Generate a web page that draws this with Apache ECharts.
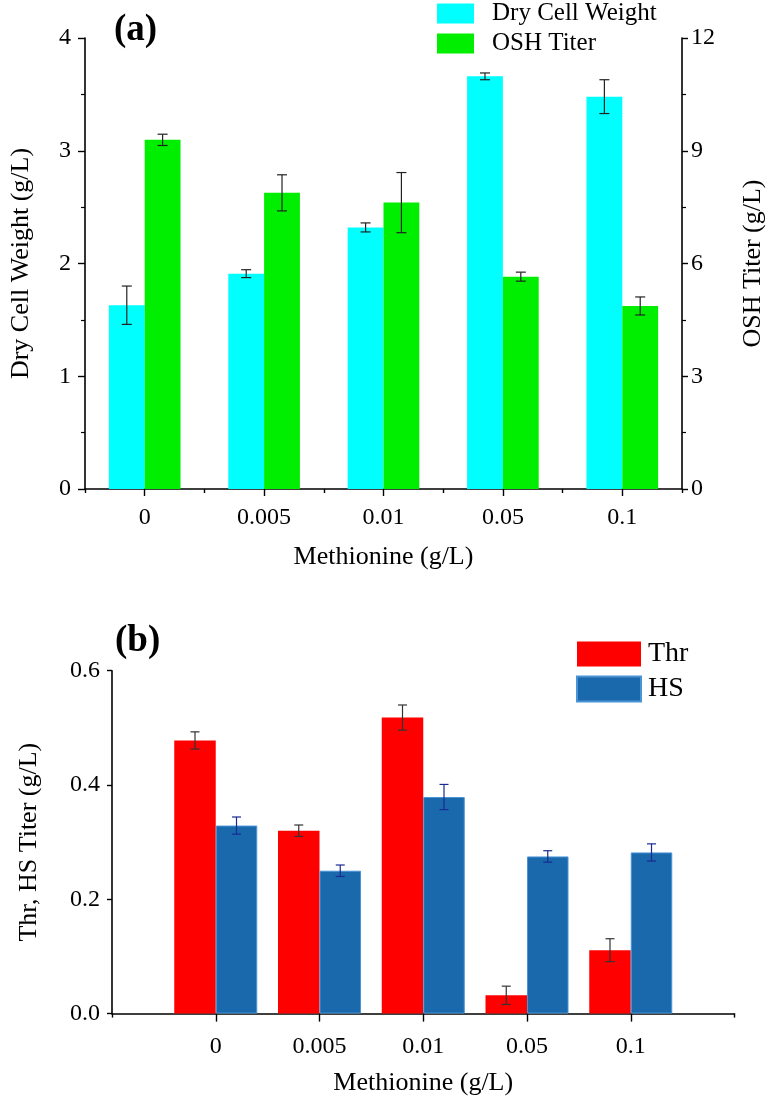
<!DOCTYPE html>
<html>
<head>
<meta charset="utf-8">
<script src="https://cdn.jsdelivr.net/npm/echarts@6/dist/echarts.min.js"></script>
<style>
html,body{margin:0;padding:0;background:#fff;}
#main{width:774px;height:1104px;}
</style>
</head>
<body>
<div id="main"></div>
<script>
// ---------- data ----------
const categories = ['0', '0.005', '0.01', '0.05', '0.1'];
// panel (a)
const dcw = [1.63, 1.91, 2.32, 3.66, 3.48];
const dcwErr = [0.17, 0.035, 0.04, 0.03, 0.15];
const osh = [9.29, 7.88, 7.62, 5.65, 4.87];
const oshErr = [0.15, 0.48, 0.80, 0.12, 0.24];
const leftTicksA = [0, 4, 1];    // min, max, interval
const rightTicksA = [0, 12, 3];
// panel (b)
const thr = [0.478, 0.320, 0.518, 0.032, 0.111];
const thrErr = [0.015, 0.010, 0.022, 0.016, 0.020];
const hs = [0.329, 0.250, 0.379, 0.275, 0.282];
const hsErr = [0.015, 0.010, 0.022, 0.010, 0.015];
const ticksB = [0, 0.6, 0.2];

// ---------- helpers ----------
const FONT = 'Liberation Serif';
const black = '#000';

function errData(vals, errs, shift) {
  return vals.map((v, i) => [i + shift, v, v - errs[i], v + errs[i]]);
}
function errRender(sign, frac, color, capHalf) {
  return function (params, api) {
    const x = api.value(0);
    const lo = api.value(2), hi = api.value(3);
    const band = api.size([1, 0])[0];
    const off = sign * band * frac / 4;
    const pLo = api.coord([x, lo]);
    const pHi = api.coord([x, hi]);
    const cx = pLo[0] + off;
    const st = { stroke: color, lineWidth: 1.2 };
    return {
      type: 'group',
      children: [
        { type: 'line', shape: { x1: cx, y1: pHi[1], x2: cx, y2: pLo[1] }, style: st },
        { type: 'line', shape: { x1: cx - capHalf, y1: pHi[1], x2: cx + capHalf, y2: pHi[1] }, style: st },
        { type: 'line', shape: { x1: cx - capHalf, y1: pLo[1], x2: cx + capHalf, y2: pLo[1] }, style: st }
      ]
    };
  };
}

const axisLineStyle = { show: true, lineStyle: { color: black, width: 1.6 } };
const labelStyle = { color: black, fontFamily: FONT, fontSize: 24 };
const nameStyle = { color: black, fontFamily: FONT, fontSize: 26 };

// padded categories for panel (b)
const catsB = [''].concat(categories, ['']);
const pad = arr => ['-'].concat(arr, ['-']);

const option = {
  backgroundColor: '#fff',
  animation: false,
  title: [
    { text: '(a)', left: 109, top: 7, textStyle: { fontFamily: FONT, fontSize: 37, fontWeight: 'bold', color: black } },
    { text: '(b)', left: 110, top: 618, textStyle: { fontFamily: FONT, fontSize: 37, fontWeight: 'bold', color: black } }
  ],
  legend: [
    {
      data: ['Dry Cell Weight', 'OSH Titer'],
      orient: 'vertical', left: 437, top: 1, padding: 0,
      itemWidth: 37, itemHeight: 20, itemGap: 5, icon: 'rect',
      textStyle: { fontFamily: FONT, fontSize: 25, color: black, padding: [0, 0, 0, 13] }
    },
    {
      data: ['Thr', 'HS'],
      orient: 'vertical', left: 576, top: 640, padding: 0,
      itemWidth: 64, itemHeight: 25, itemGap: 7, icon: 'rect',
      textStyle: { fontFamily: FONT, fontSize: 28, color: black, padding: [0, 0, 0, 2] }
    }
  ],
  grid: [
    { left: 83, right: 83, top: 38, bottom: 615 },
    { left: 112, right: 39.5, top: 670.7, bottom: 90.4 }
  ],
  xAxis: [
    {
      gridIndex: 0, type: 'category', data: categories, position: 'bottom',
      boundaryGap: true,
      axisLine: axisLineStyle,
      axisTick: { show: true, alignWithLabel: true, length: 7, lineStyle: { color: black, width: 1.4 } },
      axisLabel: Object.assign({ margin: 17 }, labelStyle),
      name: 'Methionine (g/L)', nameLocation: 'middle', nameGap: 55, nameTextStyle: nameStyle,
      splitLine: { show: false }
    },
    {
      gridIndex: 0, type: 'value', min: 0, max: categories.length, interval: 1, position: 'bottom',
      axisLine: { show: false },
      axisTick: { show: true, length: 4, lineStyle: { color: black, width: 1.4 } },
      axisLabel: { show: false }, splitLine: { show: false }
    },
    {
      gridIndex: 1, type: 'category', data: catsB, position: 'bottom',
      boundaryGap: false,
      axisLine: axisLineStyle,
      axisTick: { show: true, length: 8, interval: (i, v) => v !== '', lineStyle: { color: black, width: 1.4 } },
      axisLabel: Object.assign({ margin: 21, interval: 0 }, labelStyle),
      name: 'Methionine (g/L)', nameLocation: 'middle', nameGap: 57, nameTextStyle: nameStyle,
      splitLine: { show: false }
    },
    {
      gridIndex: 1, type: 'value', min: 0, max: 1, interval: 1, position: 'bottom',
      axisLine: { show: false },
      axisTick: { show: true, length: 4, lineStyle: { color: black, width: 1.4 } },
      axisLabel: { show: false }, splitLine: { show: false }
    }
  ],
  yAxis: [
    {
      gridIndex: 0, type: 'value', position: 'left',
      min: leftTicksA[0], max: leftTicksA[1], interval: leftTicksA[2],
      axisLine: axisLineStyle,
      axisTick: { show: true, length: 7, lineStyle: { color: black, width: 1.4 } },
      minorTick: { show: true, splitNumber: 2, length: 4, lineStyle: { color: black, width: 1.2 } },
      axisLabel: Object.assign({ margin: 14 }, labelStyle),
      splitLine: { show: false },
      name: 'Dry Cell Weight (g/L)', nameLocation: 'middle', nameGap: 51, nameRotate: 90, nameTextStyle: nameStyle
    },
    {
      gridIndex: 0, type: 'value', position: 'right',
      min: rightTicksA[0], max: rightTicksA[1], interval: rightTicksA[2],
      axisLine: axisLineStyle,
      axisTick: { show: true, length: 6, lineStyle: { color: black, width: 1.4 } },
      minorTick: { show: true, splitNumber: 2, length: 4, lineStyle: { color: black, width: 1.2 } },
      axisLabel: Object.assign({ margin: 9 }, labelStyle),
      splitLine: { show: false },
      name: 'OSH Titer (g/L)', nameLocation: 'middle', nameGap: 58, nameRotate: 90, nameTextStyle: nameStyle
    },
    {
      gridIndex: 1, type: 'value', position: 'left',
      min: ticksB[0], max: ticksB[1], interval: ticksB[2],
      axisLine: axisLineStyle,
      axisTick: { show: true, length: 5, lineStyle: { color: black, width: 1.4 } },
      axisLabel: Object.assign({ margin: 12, formatter: v => v.toFixed(1) }, labelStyle),
      splitLine: { show: false },
      name: 'Thr, HS Titer (g/L)', nameLocation: 'middle', nameGap: 70, nameRotate: 90, nameTextStyle: nameStyle
    }
  ],
  series: [
    {
      name: 'Dry Cell Weight', type: 'bar', xAxisIndex: 0, yAxisIndex: 0,
      data: dcw, barGap: '0%', barCategoryGap: '40%',
      itemStyle: { color: '#00ffff' }
    },
    {
      name: 'OSH Titer', type: 'bar', xAxisIndex: 0, yAxisIndex: 1,
      data: osh, barGap: '0%', barCategoryGap: '40%',
      itemStyle: { color: '#00ee00' }
    },
    {
      type: 'custom', xAxisIndex: 0, yAxisIndex: 0, z: 5,
      data: errData(dcw, dcwErr, 0), encode: { x: 0, y: [1, 2, 3] },
      renderItem: errRender(-1, 0.6, '#222', 5)
    },
    {
      type: 'custom', xAxisIndex: 0, yAxisIndex: 1, z: 5,
      data: errData(osh, oshErr, 0), encode: { x: 0, y: [1, 2, 3] },
      renderItem: errRender(1, 0.6, '#222', 5)
    },
    {
      name: 'Thr', type: 'bar', xAxisIndex: 2, yAxisIndex: 2,
      data: pad(thr), barGap: '0%', barCategoryGap: '20%',
      itemStyle: { color: '#ff0000' }
    },
    {
      name: 'HS', type: 'bar', xAxisIndex: 2, yAxisIndex: 2,
      data: pad(hs), barGap: '0%', barCategoryGap: '20%',
      itemStyle: { color: '#1a69ad', borderColor: '#4a94d6', borderWidth: 1 }
    },
    {
      type: 'custom', xAxisIndex: 2, yAxisIndex: 2, z: 5,
      data: errData(thr, thrErr, 1), encode: { x: 0, y: [1, 2, 3] },
      renderItem: errRender(-1, 0.8, '#333', 4.5)
    },
    {
      type: 'custom', xAxisIndex: 2, yAxisIndex: 2, z: 5,
      data: errData(hs, hsErr, 1), encode: { x: 0, y: [1, 2, 3] },
      renderItem: errRender(1, 0.8, '#1a2a90', 4.5)
    }
  ]
};

const chart = echarts.init(document.getElementById('main'), null, { renderer: 'canvas' });
chart.setOption(option);
</script>
</body>
</html>
